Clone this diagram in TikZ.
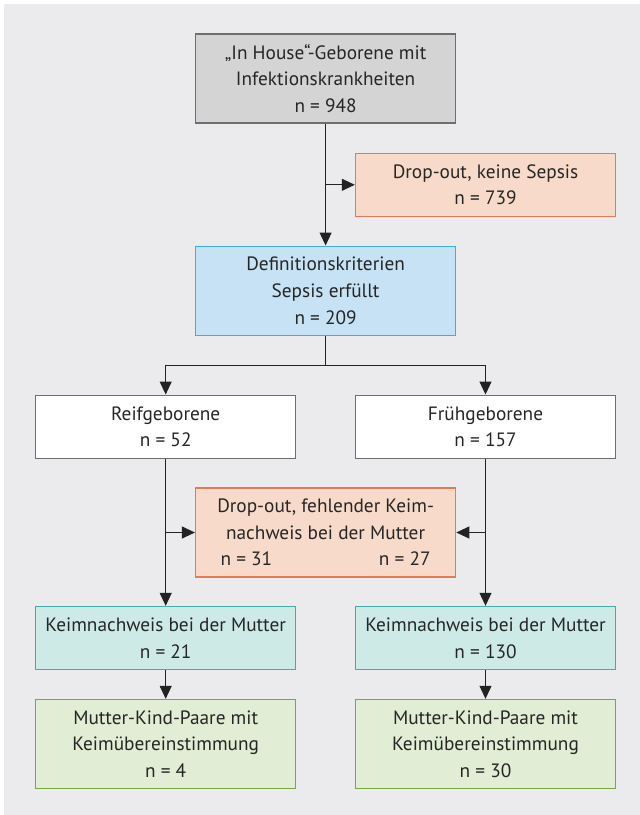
\documentclass[tikz,border=0pt]{standalone}
\usepackage{fontspec}
\setmainfont{PT Sans}
\usetikzlibrary{arrows.meta}
\definecolor{bgc}{HTML}{EBEBED}
\definecolor{txt}{HTML}{262626}
\definecolor{grayfill}{HTML}{D4D4D4}
\definecolor{grayline}{HTML}{6E6E6E}
\definecolor{orfill}{HTML}{F8DACA}
\definecolor{orline}{HTML}{E57B54}
\definecolor{blfill}{HTML}{C6E2F4}
\definecolor{blline}{HTML}{3AAEE6}
\definecolor{tefill}{HTML}{CEEAE6}
\definecolor{teline}{HTML}{3CB0A4}
\definecolor{grfill}{HTML}{E1EDD4}
\definecolor{grline}{HTML}{78A845}
\definecolor{arr}{HTML}{222222}
\tikzset{
  box/.style={rectangle, draw, line width=1.4pt, inner sep=0pt, align=center, text=txt,
    minimum width=260pt, font=\fontsize{19.3}{26.6}\selectfont},
  tall/.style={minimum height=89pt},
  short/.style={minimum height=63pt},
  graybox/.style={box, fill=grayfill, draw=grayline},
  orbox/.style={box, fill=orfill, draw=orline},
  blbox/.style={box, fill=blfill, draw=blline},
  whbox/.style={box, fill=white, draw=grayline},
  tebox/.style={box, fill=tefill, draw=teline},
  grbox/.style={box, fill=grfill, draw=grline},
  conn/.style={draw=arr, line width=1.1pt},
  arrw/.style={conn, -{Triangle[length=13pt,width=12pt]}},
}
\begin{document}
\begin{tikzpicture}[x=1pt,y=-1pt]
\useasboundingbox (0,0) rectangle (640,815);
\fill[bgc] (4,4) rectangle (640,815);
\node[graybox, tall] (top) at (325.6,78.3) {„In House“-Geborene mit\\Infektionskrankheiten\\n = 948};
\node[orbox, short] (drop1) at (485.5,184.8) {Drop-out, keine Sepsis\\n = 739};
\node[blbox, tall] (def) at (325.6,290.7) {Definitionskriterien\\Sepsis erfüllt\\n = 209};
\node[whbox, short] (reif) at (165.7,426.7) {Reifgeborene\\n = 52};
\node[whbox, short] (frueh) at (485.5,426.7) {Frühgeborene\\n = 157};
\node[orbox, tall] (drop2) at (325.6,532.5) {Drop-out, fehlender Keim-\\nachweis bei der Mutter\\\makebox[210pt]{n = 31\hfill n = 27}};
\node[tebox, short] (keimL) at (165.7,638) {Keimnachweis bei der Mutter\\n = 21};
\node[tebox, short] (keimR) at (485.5,638) {Keimnachweis bei der Mutter\\n = 130};
\node[grbox, tall] (grL) at (165.7,744) {Mutter-Kind-Paare mit\\Keimübereinstimmung\\n = 4};
\node[grbox, tall] (grR) at (485.5,744) {Mutter-Kind-Paare mit\\Keimübereinstimmung\\n = 30};
\coordinate (j1) at (325.6,184.8);
\coordinate (br) at (325.6,365.3);
\coordinate (brL) at (165.7,365.3);
\coordinate (brR) at (485.5,365.3);
\coordinate (jL) at (165.7,532.5);
\coordinate (jR) at (485.5,532.5);
\draw[arrw] (top.south) -- (def.north);
\draw[arrw] (j1) -- (drop1.west);
\draw[conn] (def.south) -- (br);
\draw[conn] (brL) -- (brR);
\draw[arrw] (brL) -- (reif.north);
\draw[arrw] (brR) -- (frueh.north);
\draw[arrw] (reif.south) -- (keimL.north);
\draw[arrw] (frueh.south) -- (keimR.north);
\draw[arrw] (jL) -- (drop2.west);
\draw[arrw] (jR) -- (drop2.east);
\draw[arrw] (keimL.south) -- (grL.north);
\draw[arrw] (keimR.south) -- (grR.north);
\end{tikzpicture}
\end{document}
